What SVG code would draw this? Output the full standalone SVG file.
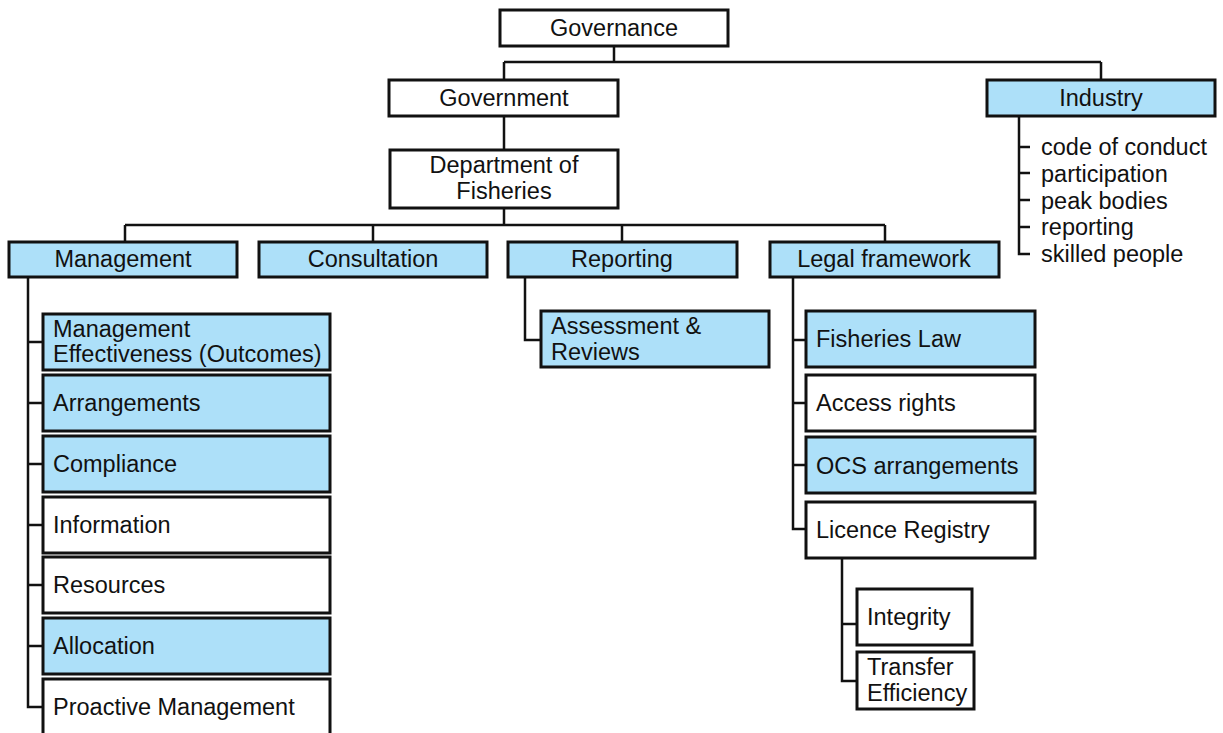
<svg xmlns="http://www.w3.org/2000/svg" width="1223" height="733" viewBox="0 0 1223 733">
<style>
rect{stroke:#111;stroke-width:3;fill:#fff}
rect.b{fill:#ADE0F9}
text{font-family:"Liberation Sans",Arial,sans-serif;font-size:23.5px;fill:#111}
.c{text-anchor:middle}
#connectors path{fill:none;stroke:#111;stroke-width:2.5}
</style>
<rect x="0" y="0" width="1223" height="733" style="fill:#fff;stroke:none"/>
<g id="connectors">
<path d="M614 46V62M504 62H1101M504 62V80M1101 62V80"/>
<path d="M504 116V150M504 208V225M125 225H885M125 225V242M373 225V242M622 225V242M885 225V242"/>
<path d="M28 277V707H43M28 342H43M28 403H43M28 464H43M28 525H43M28 585H43M28 646H43"/>
<path d="M525 277V340H541"/>
<path d="M793 277V529H806M793 340H806M793 403H806M793 465H806"/>
<path d="M842 558V681H857M842 624H857"/>
<path d="M1019 116V254H1030M1019 147H1030M1019 173H1030M1019 200H1030M1019 227H1030"/>
</g>
<g id="governance"><rect x="500" y="10" width="228" height="36"/><text class="c" x="614" y="36">Governance</text></g>
<g id="government"><rect x="389" y="80" width="229" height="36"/><text class="c" x="504" y="106">Government</text></g>
<g id="industry"><rect class="b" x="987" y="80" width="228" height="36"/><text class="c" x="1101" y="106">Industry</text></g>
<g id="industry-items">
<text x="1041" y="155">code of conduct</text>
<text x="1041" y="182">participation</text>
<text x="1041" y="209">peak bodies</text>
<text x="1041" y="235">reporting</text>
<text x="1041" y="262">skilled people</text>
</g>
<g id="dept"><rect x="390" y="150" width="228" height="58"/><text class="c" x="504" y="173">Department of</text><text class="c" x="504" y="199">Fisheries</text></g>
<g id="management"><rect class="b" x="9" y="242" width="228" height="35"/><text class="c" x="123" y="267">Management</text></g>
<g id="consultation"><rect class="b" x="259" y="242" width="228" height="35"/><text class="c" x="373" y="267">Consultation</text></g>
<g id="reporting"><rect class="b" x="508" y="242" width="229" height="35"/><text class="c" x="622" y="267">Reporting</text></g>
<g id="legal"><rect class="b" x="770" y="242" width="229" height="35"/><text class="c" x="884" y="267">Legal framework</text></g>
<g id="me"><rect class="b" x="43" y="314" width="287" height="56"/><text x="53" y="337">Management</text><text x="53" y="362">Effectiveness (Outcomes)</text></g>
<g id="arrangements"><rect class="b" x="43" y="375" width="287" height="56"/><text x="53" y="411">Arrangements</text></g>
<g id="compliance"><rect class="b" x="43" y="436" width="287" height="56"/><text x="53" y="472">Compliance</text></g>
<g id="information"><rect x="43" y="497" width="287" height="56"/><text x="53" y="533">Information</text></g>
<g id="resources"><rect x="43" y="557" width="287" height="56"/><text x="53" y="593">Resources</text></g>
<g id="allocation"><rect class="b" x="43" y="618" width="287" height="56"/><text x="53" y="654">Allocation</text></g>
<g id="proactive"><rect x="43" y="679" width="287" height="56"/><text x="53" y="715">Proactive Management</text></g>
<g id="assessment"><rect class="b" x="541" y="311" width="228" height="56"/><text x="551" y="334">Assessment &amp;</text><text x="551" y="360">Reviews</text></g>
<g id="fisheries-law"><rect class="b" x="806" y="311" width="229" height="56"/><text x="816" y="347">Fisheries Law</text></g>
<g id="access-rights"><rect x="806" y="375" width="229" height="56"/><text x="816" y="411">Access rights</text></g>
<g id="ocs"><rect class="b" x="806" y="437" width="229" height="56"/><text x="816" y="474">OCS arrangements</text></g>
<g id="licence"><rect x="806" y="502" width="229" height="56"/><text x="816" y="538">Licence Registry</text></g>
<g id="integrity"><rect x="857" y="589" width="115" height="56"/><text x="867" y="625">Integrity</text></g>
<g id="transfer"><rect x="857" y="652" width="117" height="57"/><text x="867" y="675">Transfer</text><text x="867" y="701">Efficiency</text></g>
</svg>
